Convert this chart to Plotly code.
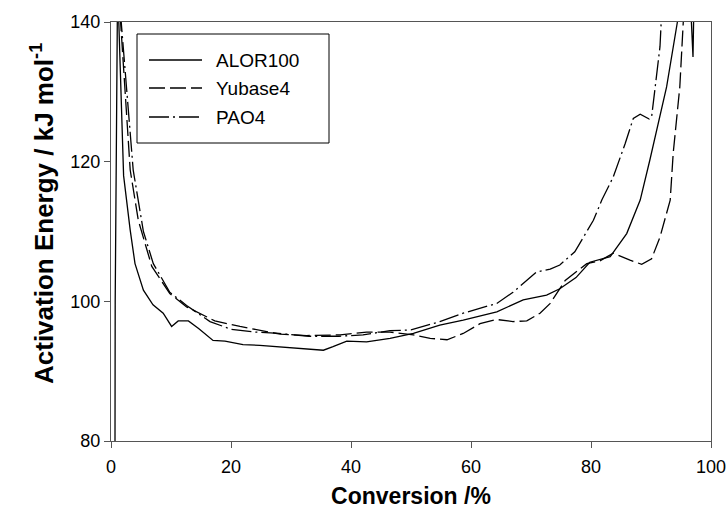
import plotly.graph_objects as go

# ---- data ----
alor_x = [0.65, 0.7, 1.05, 1.15, 1.3, 2.1, 3.2, 4.0, 5.4, 7.0, 8.7, 10.1, 11.2, 12.9, 14.6, 17.0, 19.0,
          22.0, 24.8, 27.6, 31.5, 35.4, 37.0, 39.3, 42.6, 46.5, 50.4, 54.8, 58.7, 64.3, 68.7, 72.6,
          74.8, 77.5, 79.8, 83.2, 85.95, 88.2, 89.8, 92.6, 94.4, 96.2, 97.0, 97.3]
alor_y = [70, 100, 140, 145, 140, 118, 110.2, 105.4, 101.6, 99.5, 98.3, 96.4, 97.2, 97.2, 96.1, 94.4, 94.3,
          93.8, 93.7, 93.5, 93.3, 93.0, 93.5, 94.3, 94.2, 94.7, 95.4, 96.6, 97.3, 98.5, 100.2, 100.9,
          101.8, 103.4, 105.6, 106.4, 109.7, 114.5, 120.2, 130.7, 140, 150, 135, 150]

yub_x = [1.4, 1.6, 3.2, 4.55, 6.8, 9.8, 12.6, 17.3, 21.5, 24.8, 28.2, 32.6, 38.2, 42.6, 46.5, 50.4,
         53.2, 56.0, 58.7, 61.5, 64.3, 67.0, 69.3, 71.5, 73.2, 75.7, 79.3, 81.5, 83.7, 86.5, 88.45,
         90.1, 91.5, 93.2, 93.7, 94.8, 95.5, 96.0]
yub_y = [150, 140, 118.8, 111.6, 105.0, 101.1, 99.2, 97.2, 96.4, 95.9, 95.3, 95.1, 95.2, 95.6, 95.6, 95.2,
         94.7, 94.5, 95.4, 96.8, 97.4, 97.1, 97.2, 98.3, 99.7, 103.0, 105.4, 105.8, 106.9, 105.9, 105.3,
         106.1, 109.2, 114.5, 121.2, 130.7, 140, 150]

pao_x = [1.5, 1.7, 3.7, 5.4, 7.05, 9.8, 12.6, 16.5, 20.0, 24.0, 28.0, 33.0, 38.0, 42.0, 46.5, 50.0,
         54.8, 58.7, 64.3, 67.0, 70.9, 73.2, 74.8, 77.3, 80.4, 81.8, 83.7, 85.7, 87.05, 88.2, 89.7,
         90.1, 90.7, 91.5, 91.7, 92.0]
pao_y = [150, 140, 118.8, 110.0, 105.4, 101.3, 99.4, 97.1, 96.0, 95.6, 95.4, 95.0, 95.0, 95.2, 95.8, 95.9,
         97.1, 98.3, 99.7, 101.3, 104.2, 104.6, 105.2, 107.1, 111.6, 114.5, 117.8, 122.6, 126.2, 126.8, 126.1,
         126.4, 130.7, 136.5, 140, 145]

series_names = ["ALOR100", "Yubase4", "PAO4"]
x_ticks = [0, 20, 40, 60, 80, 100]
y_ticks = [80, 100, 120, 140]

dashes = ["solid", "16px,5px", "20px,4px,2px,4px"]
series = [(alor_x, alor_y), (yub_x, yub_y), (pao_x, pao_y)]

fig = go.Figure()
for (xs, ys), name, dash in zip(series, series_names, dashes):
    fig.add_trace(go.Scatter(x=xs, y=ys, mode="lines", name=name, showlegend=False,
                             line=dict(color="black", width=1.3, dash=dash)))

# ---- manual legend (box, sample lines, labels) ----
L, R, T, B = 111, 711, 22, 441
def px(v):
    return (v - L) / (R - L)
def py(v):
    return (B - v) / (B - T)

fig.add_shape(type="rect", xref="paper", yref="paper",
              x0=px(137), x1=px(329), y0=py(143), y1=py(34),
              line=dict(color="black", width=1), fillcolor="white", layer="above")
rows = [60, 88, 117]
for name, dash, r in zip(series_names, dashes, rows):
    fig.add_shape(type="line", xref="paper", yref="paper",
                  x0=px(149), x1=px(202), y0=py(r), y1=py(r),
                  line=dict(color="black", width=1.3, dash=dash), layer="above")
    fig.add_annotation(xref="paper", yref="paper", x=px(214), y=py(r), text=name,
                       showarrow=False, xanchor="left", yanchor="middle",
                       font=dict(family="Liberation Sans, Arial", size=19, color="black"))

# y-axis title placed as a rotated annotation to match the reference position
fig.add_annotation(xref="paper", yref="paper", x=px(43), y=py(214),
                   text="<b>Activation Energy / kJ mol<sup>-1</sup></b>", textangle=-90,
                   showarrow=False, xanchor="center", yanchor="middle",
                   font=dict(family="Liberation Sans, Arial", size=26, color="black"))

axis_common = dict(showline=True, linecolor="#555", linewidth=1, mirror=True,
                   ticks="outside", ticklen=6, tickcolor="#555", showgrid=False,
                   zeroline=False, tickfont=dict(family="Liberation Sans, Arial", size=18, color="black"))

fig.update_xaxes(range=[0, 100], tickvals=x_ticks, ticktext=[str(v) for v in x_ticks],
                 ticklabelstandoff=3,
                 title=dict(text="<b>Conversion /%</b>", standoff=12,
                            font=dict(family="Liberation Sans, Arial", size=23, color="black")),
                 **axis_common)
fig.update_yaxes(range=[80, 140], tickvals=y_ticks, ticktext=[str(v) for v in y_ticks],
                 **axis_common)

fig.update_layout(width=728, height=512, plot_bgcolor="white", paper_bgcolor="white",
                  margin=dict(l=L, r=728 - R, t=T, b=512 - B, autoexpand=False),
                  showlegend=False)

fig.write_html("out.html")
